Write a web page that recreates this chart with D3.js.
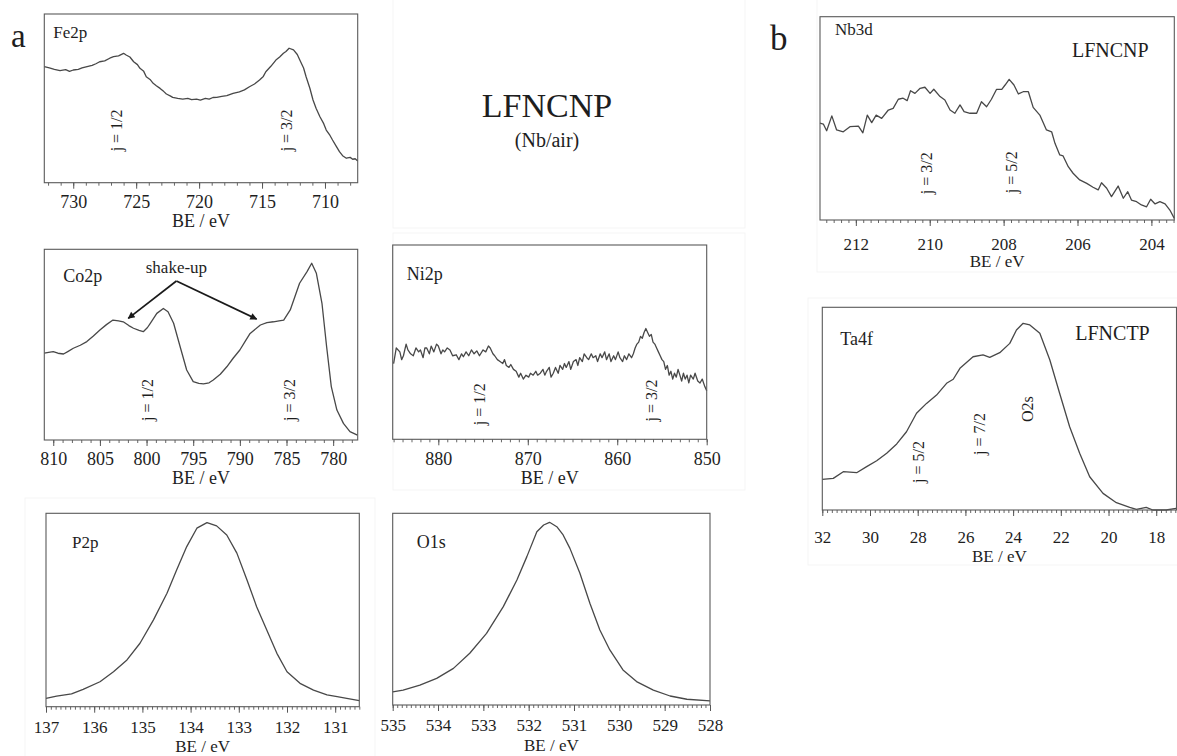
<!DOCTYPE html>
<html>
<head>
<meta charset="utf-8">
<script src="https://cdn.jsdelivr.net/npm/d3@7"></script>
<style>
    body { margin: 0; background: #fff; }
    svg { display: block; }
    text { font-family: "Liberation Serif", "Times New Roman", serif; fill: #1e1e1e; }
</style>
</head>
<body>
<svg id="chart" width="1177" height="756"></svg>
<script>
// spectra: [binding energy (eV), intensity as fraction of the frame height]
const fe2p = [[732.3, .688], [731.9, .680], [731.5, .672], [731.05, .664], [730.6, .670], [730.3, .660], [730.0, .668], [729.6, .672], [729.3, .680], [728.9, .688], [728.5, .695], [728.2, .705], [727.9, .717], [727.5, .722], [727.1, .738], [726.8, .747], [726.4, .752], [726.0, .767], [725.8, .757], [725.5, .745], [725.2, .717], [724.9, .700], [724.7, .678], [724.4, .660], [724.2, .628], [723.9, .612], [723.65, .589], [723.4, .575], [723.1, .559], [722.8, .540], [722.6, .526], [722.3, .515], [722.1, .506], [721.7, .500], [721.3, .496], [720.9, .500], [720.6, .492], [720.2, .495], [719.9, .490], [719.5, .500], [719.2, .495], [718.9, .505], [718.6, .506], [718.2, .512], [717.8, .516], [717.3, .530], [716.8, .539], [716.4, .550], [716.0, .569], [715.6, .585], [715.2, .609], [714.9, .630], [714.7, .658], [714.3, .690], [713.9, .727], [713.6, .745], [713.3, .767], [713.1, .778], [712.85, .797], [712.5, .787], [712.2, .760], [712.0, .727], [711.7, .680], [711.5, .628], [711.2, .560], [710.95, .490], [710.7, .440], [710.4, .391], [710.1, .350], [709.9, .312], [709.6, .280], [709.4, .253], [709.1, .215], [708.85, .184], [708.6, .160], [708.3, .145], [708.0, .150], [707.8, .139], [707.6, .142], [707.4, .129]];

const co2p = [[810.96, .455], [810.5, .460], [810.0, .463], [809.5, .455], [808.9, .451], [808.4, .465], [807.85, .481], [807.1, .497], [806.4, .516], [805.7, .545], [805.0, .577], [804.3, .605], [803.6, .629], [803.0, .625], [802.5, .620], [801.9, .600], [801.4, .586], [800.8, .575], [800.35, .568], [799.9, .590], [799.6, .612], [798.9, .664], [798.2, .690], [797.7, .673], [797.1, .612], [796.4, .489], [795.7, .367], [795.0, .306], [794.4, .297], [793.9, .294], [793.3, .300], [792.85, .315], [792.1, .345], [791.4, .384], [790.7, .430], [790.0, .472], [789.4, .520], [788.9, .559], [787.8, .603], [787.1, .615], [786.4, .620], [785.8, .625], [785.3, .629], [784.6, .682], [783.6, .822], [782.8, .883], [782.3, .927], [781.8, .874], [781.2, .717], [780.7, .489], [780.2, .280], [779.6, .157], [778.9, .087], [778.2, .044], [777.4, .026]];

const ni2p = [[885.0, .39], [884.7, .47], [884.3, .45], [884.1, .41], [883.9, .43], [883.6, .49], [883.4, .46], [883.1, .44], [882.8, .43], [882.5, .47], [882.2, .45], [882.0, .46], [881.7, .42], [881.5, .47], [881.3, .47], [881.0, .44], [880.8, .48], [880.5, .45], [880.2, .49], [880.0, .48], [879.7, .44], [879.5, .46], [879.3, .45], [879.0, .47], [878.7, .46], [878.4, .43], [878.0, .435], [877.7, .41], [877.4, .44], [877.2, .425], [876.9, .45], [876.6, .43], [876.3, .46], [876.0, .44], [875.7, .455], [875.4, .43], [875.0, .46], [874.7, .45], [874.4, .48], [874.2, .47], [873.9, .44], [873.7, .43], [873.4, .41], [873.1, .40], [872.8, .39], [872.6, .41], [872.4, .38], [872.1, .37], [871.9, .385], [871.6, .36], [871.3, .35], [871.0, .32], [870.8, .34], [870.5, .31], [870.2, .33], [869.9, .32], [869.7, .34], [869.4, .33], [869.1, .35], [868.9, .33], [868.6, .34], [868.3, .36], [868.1, .33], [867.9, .35], [867.6, .37], [867.4, .32], [867.15, .34], [866.9, .37], [866.6, .34], [866.4, .38], [866.1, .36], [865.9, .39], [865.7, .37], [865.4, .40], [865.2, .36], [864.9, .40], [864.6, .41], [864.4, .38], [864.2, .42], [863.9, .40], [863.7, .44], [863.4, .42], [863.2, .41], [862.9, .44], [862.7, .42], [862.4, .43], [862.2, .40], [861.9, .44], [861.7, .42], [861.4, .45], [861.2, .41], [860.9, .44], [860.7, .40], [860.4, .43], [860.2, .41], [859.9, .45], [859.7, .42], [859.4, .40], [859.2, .43], [858.95, .41], [858.7, .44], [858.4, .42], [858.2, .44], [858.0, .47], [857.8, .49], [857.6, .50], [857.4, .53], [857.2, .52], [857.0, .55], [856.8, .57], [856.6, .55], [856.4, .53], [856.2, .54], [856.0, .50], [855.8, .49], [855.6, .47], [855.4, .45], [855.2, .43], [855.0, .41], [854.8, .40], [854.6, .36], [854.4, .38], [854.2, .33], [854.0, .35], [853.8, .31], [853.6, .34], [853.4, .32], [853.2, .36], [853.0, .33], [852.8, .30], [852.6, .34], [852.4, .31], [852.2, .33], [852.0, .29], [851.8, .33], [851.5, .31], [851.3, .34], [851.0, .30], [850.75, .29], [850.5, .31], [850.2, .27], [850.0, .25]];

const p2p = [[137.0, .043], [136.78, .055], [136.47, .066], [136.23, .090], [135.88, .129], [135.6, .181], [135.32, .242], [135.05, .328], [134.77, .449], [134.49, .587], [134.29, .707], [134.08, .828], [133.87, .923], [133.66, .952], [133.46, .935], [133.25, .888], [133.04, .794], [132.83, .655], [132.63, .517], [132.42, .397], [132.21, .276], [132.0, .181], [131.73, .121], [131.45, .086], [131.17, .061], [130.96, .052], [130.76, .043], [130.5, .031]];

const o1s = [[535.0, .069], [534.77, .078], [534.4, .104], [534.03, .139], [533.66, .191], [533.3, .270], [532.93, .374], [532.56, .513], [532.26, .652], [532.04, .774], [531.82, .904], [531.67, .939], [531.54, .953], [531.38, .930], [531.24, .887], [531.09, .817], [530.87, .687], [530.65, .531], [530.43, .391], [530.21, .287], [529.92, .183], [529.62, .122], [529.25, .078], [528.88, .047], [528.51, .030], [528.0, .021]];

const nb3d = [[212.97, .476], [212.88, .472], [212.79, .439], [212.65, .512], [212.52, .443], [212.34, .434], [212.16, .459], [211.93, .462], [211.81, .429], [211.69, .516], [211.57, .479], [211.45, .516], [211.3, .500], [211.12, .541], [210.99, .549], [210.85, .594], [210.72, .599], [210.61, .587], [210.52, .636], [210.4, .623], [210.26, .648], [210.13, .653], [209.99, .623], [209.89, .643], [209.72, .607], [209.59, .590], [209.45, .541], [209.32, .525], [209.18, .566], [209.07, .533], [208.91, .525], [208.73, .525], [208.6, .582], [208.46, .557], [208.33, .594], [208.19, .643], [208.05, .643], [207.96, .664], [207.85, .692], [207.72, .664], [207.6, .620], [207.47, .631], [207.33, .631], [207.2, .554], [207.02, .516], [206.84, .443], [206.7, .434], [206.61, .377], [206.48, .320], [206.39, .315], [206.25, .262], [206.12, .230], [205.94, .197], [205.75, .180], [205.58, .161], [205.44, .148], [205.35, .183], [205.21, .156], [205.08, .115], [204.9, .167], [204.76, .107], [204.64, .139], [204.54, .098], [204.4, .090], [204.27, .074], [204.13, .065], [204.02, .102], [203.9, .079], [203.77, .090], [203.63, .079], [203.5, .049], [203.38, .008]];

const ta4f = [[32.0, .151], [31.54, .156], [31.12, .189], [30.56, .184], [30.14, .214], [29.72, .243], [29.3, .280], [28.88, .326], [28.47, .386], [28.05, .477], [27.63, .526], [27.21, .567], [26.79, .625], [26.51, .645], [26.23, .699], [25.68, .756], [25.26, .765], [24.98, .753], [24.56, .776], [24.14, .822], [23.86, .888], [23.58, .921], [23.3, .913], [22.88, .872], [22.46, .740], [22.05, .576], [21.63, .411], [21.21, .280], [20.79, .164], [20.23, .082], [19.67, .036], [19.11, .013], [18.83, .003], [18.42, .013], [18.14, 0], [17.86, 0], [17.58, 0], [17.17, .008]];

// major tick labels
const fe2pTicks = [730, 725, 720, 715, 710];
const co2pTicks = [810, 805, 800, 795, 790, 785, 780];
const ni2pTicks = [880, 870, 860, 850];
const p2pTicks = [137, 136, 135, 134, 133, 132, 131];
const o1sTicks = [535, 534, 533, 532, 531, 530, 529, 528];
const nb3dTicks = [212, 210, 208, 206, 204];
const ta4fTicks = [32, 30, 28, 26, 24, 22, 20, 18];

// peak annotations: [text, binding energy, height fraction]
const fe2pNotes = [['j = 1/2', 726.55, .31], ['j = 3/2', 713.04, .31]];
const co2pNotes = [['j = 1/2', 799.85, .21], ['j = 3/2', 784.63, .21]];
const ni2pNotes = [['j = 1/2', 875.35, .18], ['j = 3/2', 856.16, .20]];
const nb3dNotes = [['j = 3/2', 210.08, .23], ['j = 5/2', 207.78, .235]];
const ta4fNotes = [['j = 5/2', 27.95, .237], ['j = 7/2', 25.4, .375], ['O2s', 23.39, .498]];

const svg = d3.select('#chart');

svg.append('defs').append('marker')
    .attr('id', 'arrow')
    .attr('viewBox', '0 0 10 10')
    .attr('refX', 9)
    .attr('refY', 5)
    .attr('markerWidth', 10)
    .attr('markerHeight', 7)
    .attr('orient', 'auto')
    .attr('markerUnits', 'userSpaceOnUse')
    .append('path')
    .attr('d', 'M0,0 L10,5 L0,10 Z')
    .attr('fill', '#1a1a1a');

// faint edges of the pasted sub-figures
const pasteBoxes = [
    [393, -1, 352, 229],
    [393, 233, 352, 257],
    [25, 498, 350, 260],
    [817, -1, 361, 273],
    [808, 298, 370, 267]
];
svg.append('g')
    .selectAll('rect')
    .data(pasteBoxes)
    .join('rect')
    .attr('x', d => d[0])
    .attr('y', d => d[1])
    .attr('width', d => d[2])
    .attr('height', d => d[3])
    .attr('fill', 'none')
    .attr('stroke', '#f5f5f5');

const panels = [
    { name: 'Fe2p', data: fe2p, domain: [732.3, 707.4], ticks: fe2pTicks, minor: 1, notes: fe2pNotes,
      box: [44.3, 14, 357.7, 182.7], font: 18, nameAt: [9, 24, 17], tickDy: 25, titleDy: 44 },
    { name: 'Co2p', data: co2p, domain: [810.96, 777.37], ticks: co2pTicks, minor: 1, notes: co2pNotes,
      box: [44.3, 249.3, 357.7, 440], font: 18, nameAt: [19, 33, 18], tickDy: 25, titleDy: 44 },
    { name: 'Ni2p', data: ni2p, domain: [885.1, 850], ticks: ni2pTicks, minor: 1, notes: ni2pNotes,
      box: [392.7, 245, 706.7, 439.3], font: 18, nameAt: [14, 35, 18], tickDy: 26, titleDy: 45 },
    { name: 'P2p', data: p2p, domain: [137, 130.5], ticks: p2pTicks, minor: 0.1, notes: [],
      box: [46, 513.3, 359.3, 706.7], font: 17, nameAt: [26, 35, 17], tickDy: 26, titleDy: 45 },
    { name: 'O1s', data: o1s, domain: [535, 528], ticks: o1sTicks, minor: 0.1, notes: [],
      box: [392.7, 513.3, 710, 705], font: 17, nameAt: [24, 35, 18], tickDy: 26, titleDy: 46 },
    { name: 'Nb3d', data: nb3d, domain: [212.97, 203.38], ticks: nb3dTicks, minor: 0.2, notes: nb3dNotes,
      box: [820, 16.7, 1174.3, 220], font: 17, nameAt: [15, 18, 17], tickDy: 30, titleDy: 47, tag: 'LFNCNP', tagBase: 40 },
    { name: 'Ta4f', data: ta4f, domain: [32, 17.15], ticks: ta4fTicks, minor: 0.2, notes: ta4fNotes,
      box: [822.3, 307.3, 1176.5, 510], font: 17, nameAt: [18, 38, 18], tickDy: 33, titleDy: 52, tag: 'LFNCTP', tagBase: 33 }
];

panels.forEach(drawPanel);

// shake-up arrows in the Co2p panel
const co2 = panels[1];
const cx = d3.scaleLinear().domain(co2.domain).range([co2.box[0], co2.box[2]]);
const cy = d3.scaleLinear().domain([0, 1]).range([co2.box[3], co2.box[1]]);
svg.append('text')
    .attr('x', cx(796.8))
    .attr('y', cy(.876))
    .attr('text-anchor', 'middle')
    .attr('font-size', 17)
    .text('shake-up');
[[801.96, .638], [788.2, .634]].forEach(end => {
    svg.append('line')
        .attr('x1', cx(796.8))
        .attr('y1', cy(.834))
        .attr('x2', cx(end[0]))
        .attr('y2', cy(end[1]))
        .attr('stroke', '#1a1a1a')
        .attr('stroke-width', 1.7)
        .attr('marker-end', 'url(#arrow)');
});

// figure letters and the central title
svg.append('text').attr('x', 11).attr('y', 47).attr('font-size', 33).text('a');
svg.append('text').attr('x', 770).attr('y', 50).attr('font-size', 35).text('b');
svg.append('text').attr('x', 547).attr('y', 117).attr('text-anchor', 'middle').attr('font-size', 34).text('LFNCNP');
svg.append('text').attr('x', 547).attr('y', 147).attr('text-anchor', 'middle').attr('font-size', 20).text('(Nb/air)');

function drawPanel(p) {
    const [left, top, right, bottom] = p.box;
    const x = d3.scaleLinear().domain(p.domain).range([left, right]);
    const y = d3.scaleLinear().domain([0, 1]).range([bottom, top]);
    const g = svg.append('g');

    const lo = Math.min(...p.domain);
    const hi = Math.max(...p.domain);
    const minorTicks = d3.range(Math.ceil(lo / p.minor - 1e-6), Math.floor(hi / p.minor + 1e-6) + 1)
        .map(k => +(k * p.minor).toFixed(3));

    g.append('g')
        .attr('transform', `translate(0,${bottom})`)
        .call(d3.axisBottom(x).tickValues(minorTicks).tickSize(3).tickFormat(''))
        .call(a => a.select('.domain').remove())
        .call(a => a.selectAll('line').attr('stroke', '#666'));

    const axis = g.append('g')
        .attr('transform', `translate(0,${bottom})`)
        .call(d3.axisBottom(x).tickValues(p.ticks).tickSize(6).tickFormat(d3.format('d')));
    axis.select('.domain').remove();
    axis.selectAll('line').attr('stroke', '#555');
    axis.selectAll('text')
        .attr('y', p.tickDy)
        .attr('dy', null)
        .attr('fill', '#1e1e1e')
        .style('font-family', '"Liberation Serif", serif')
        .style('font-size', `${p.font}px`);

    g.append('text')
        .attr('x', (left + right) / 2)
        .attr('y', bottom + p.titleDy)
        .attr('text-anchor', 'middle')
        .attr('font-size', p.font)
        .text('BE / eV');

    g.append('path')
        .datum(p.data)
        .attr('fill', 'none')
        .attr('stroke', '#484848')
        .attr('stroke-width', 1.3)
        .attr('stroke-linejoin', 'round')
        .attr('d', d3.line().x(d => x(d[0])).y(d => y(d[1])));

    g.append('rect')
        .attr('x', left)
        .attr('y', top)
        .attr('width', right - left)
        .attr('height', bottom - top)
        .attr('fill', 'none')
        .attr('stroke', '#5a5a5a')
        .attr('stroke-width', 1.1);

    g.append('text')
        .attr('x', left + p.nameAt[0])
        .attr('y', top + p.nameAt[1])
        .attr('font-size', p.nameAt[2])
        .text(p.name);

    if (p.tag) {
        g.append('text')
            .attr('x', right - 64)
            .attr('y', top + p.tagBase)
            .attr('text-anchor', 'middle')
            .attr('font-size', 20)
            .text(p.tag);
    }

    g.selectAll('.note')
        .data(p.notes)
        .join('text')
        .attr('class', 'note')
        .attr('transform', d => `translate(${x(d[1])},${y(d[2])}) rotate(-90)`)
        .attr('text-anchor', 'middle')
        .attr('dominant-baseline', 'central')
        .attr('font-size', 16)
        .text(d => d[0]);
}
</script>
</body>
</html>
